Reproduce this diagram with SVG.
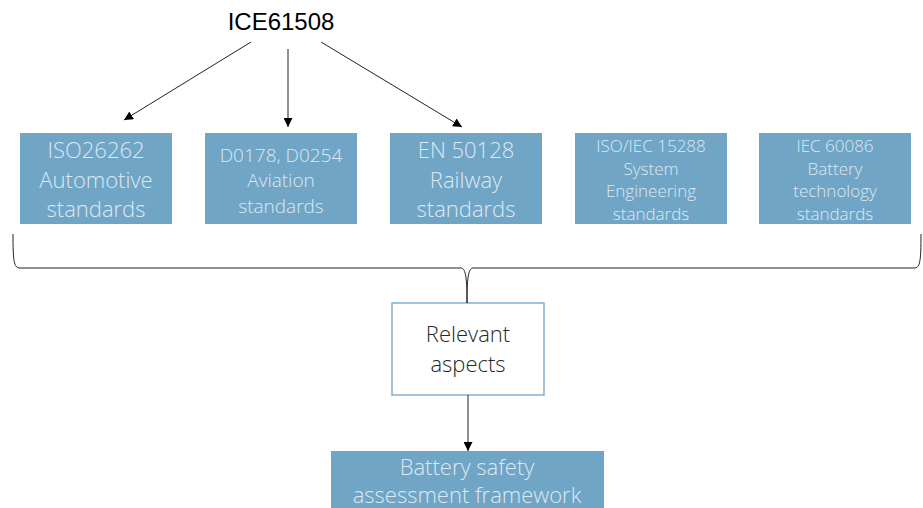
<svg xmlns="http://www.w3.org/2000/svg" width="923" height="508" viewBox="0 0 923 508">
<style>
.box{fill:#71a5c6;}
.bt{font-family:"Open Sans","Noto Sans",sans-serif;font-weight:300;fill:#dce9f2;text-anchor:middle;}
.conn{stroke:#222;stroke-width:1;fill:none;}
</style>
<defs>
<marker id="ah" viewBox="0 0 10 10" refX="10" refY="5" markerWidth="9" markerHeight="9" markerUnits="userSpaceOnUse" orient="auto">
<path d="M0,0 L10,5 L0,10 z" fill="#000"/>
</marker>
</defs>
<rect width="923" height="508" fill="#fff"/>
<g id="ice61508">
<text x="281" y="30" font-family="Liberation Sans,Arial,sans-serif" font-size="24" fill="#000" text-anchor="middle">ICE61508</text>
</g>
<g id="iso26262">
<rect class="box" x="20" y="133" width="152" height="91"/>
<text class="bt" font-size="22"><tspan x="96" y="158">ISO26262</tspan><tspan x="96" y="188">Automotive</tspan><tspan x="96" y="217">standards</tspan></text>
</g>
<g id="d0178">
<rect class="box" x="205" y="133" width="152" height="91"/>
<text class="bt" font-size="19"><tspan x="281" y="162">D0178, D0254</tspan><tspan x="281" y="187">Aviation</tspan><tspan x="281" y="213">standards</tspan></text>
</g>
<g id="en50128">
<rect class="box" x="390" y="133" width="152" height="91"/>
<text class="bt" font-size="22"><tspan x="466" y="158">EN 50128</tspan><tspan x="466" y="188">Railway</tspan><tspan x="466" y="217">standards</tspan></text>
</g>
<g id="iso15288">
<rect class="box" x="575" y="133" width="152" height="91"/>
<text class="bt" font-size="17"><tspan x="651" y="152">ISO/IEC 15288</tspan><tspan x="651" y="175">System</tspan><tspan x="651" y="197">Engineering</tspan><tspan x="651" y="220">standards</tspan></text>
</g>
<g id="iec60086">
<rect class="box" x="759" y="133" width="152" height="91"/>
<text class="bt" font-size="17"><tspan x="835" y="152">IEC 60086</tspan><tspan x="835" y="175">Battery</tspan><tspan x="835" y="197">technology</tspan><tspan x="835" y="220">standards</tspan></text>
</g>
<g id="relevant">
<rect x="392" y="303" width="152" height="92" fill="#fff" stroke="#6fa3c8" stroke-width="1.3"/>
<text font-family="Open Sans,Noto Sans,sans-serif" font-weight="300" font-size="22" fill="#262626" text-anchor="middle"><tspan x="468" y="342">Relevant</tspan><tspan x="468" y="372">aspects</tspan></text>
</g>
<g id="framework">
<rect class="box" x="331" y="451" width="273" height="60"/>
<text class="bt" font-size="22"><tspan x="467" y="475">Battery safety</tspan><tspan x="467" y="503">assessment framework</tspan></text>
</g>
<g id="connectors">
<line class="conn" x1="251" y1="42" x2="124" y2="120" marker-end="url(#ah)"/>
<line class="conn" x1="288" y1="49" x2="288" y2="127" marker-end="url(#ah)"/>
<line class="conn" x1="321" y1="42" x2="462" y2="127" marker-end="url(#ah)"/>
<path class="conn" d="M13,234 C13,262 14,268 20,268 L461,268 C466,268 467,280 467,303 M921,234 C921,262 920,268 914,268 L473,268 C468,268 467,280 467,303"/>
<line class="conn" x1="468" y1="395" x2="468" y2="451" marker-end="url(#ah)"/>
</g>
</svg>
